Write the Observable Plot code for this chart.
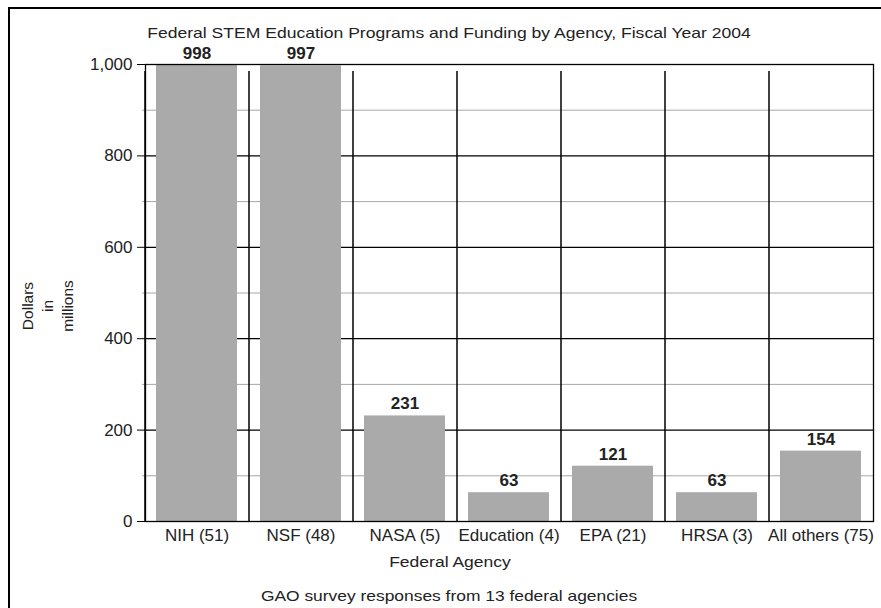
<!DOCTYPE html>
<html>
<head>
<meta charset="utf-8">
<script src="https://cdn.jsdelivr.net/npm/d3@7"></script>
<script src="https://cdn.jsdelivr.net/npm/@observablehq/plot@0.6"></script>
<style>
  body { margin: 0; background: #fff; }
  #wrap { position: relative; width: 881px; height: 608px; overflow: hidden; background: #fff;
          font-family: "Liberation Sans", Arial, Helvetica, sans-serif; color: #222; }
  #border { position: absolute; left: 7.5px; top: 6.5px; width: 900px; height: 700px;
            border-top: 2.5px solid #000; border-left: 2.5px solid #000; }
  .t { position: absolute; white-space: nowrap; }
  #title { left: 449px; top: 32px; font-size: 15px; transform: translate(-50%, -50%) scaleX(1.17); }
  #xlabel { left: 450px; top: 562px; font-size: 15.5px; transform: translate(-50%, -50%) scaleX(1.13); }
  #caption { left: 449px; top: 595px; font-size: 15px; transform: translate(-50%, -50%) scaleX(1.16); }
  #ylabel { left: 48px; top: 306px; font-size: 15.5px; line-height: 20px; text-align: center;
            transform: translate(-50%, -50%) rotate(-90deg); }
  #chart { position: absolute; left: 0; top: 0; }
</style>
</head>
<body>
<div id="wrap">
  <div id="chart"></div>
  <div id="border"></div>
  <div class="t" id="title">Federal STEM Education Programs and Funding by Agency, Fiscal Year 2004</div>
  <div class="t" id="ylabel">Dollars<br>in<br>millions</div>
  <div class="t" id="xlabel">Federal Agency</div>
  <div class="t" id="caption">GAO survey responses from 13 federal agencies</div>
</div>
<script>
const categories = ["NIH (51)", "NSF (48)", "NASA (5)", "Education (4)", "EPA (21)", "HRSA (3)", "All others (75)"];
const values = [998, 997, 231, 63, 121, 63, 154];
const majorTicks = [0, 200, 400, 600, 800, 1000];
const minorTicks = [100, 300, 500, 700, 900];

const data = categories.map((c, i) => ({agency: c, value: values[i]}));

const W = 881, H = 608, mL = 145, mR = 8, mT = 64, mB = 87;
const step = (W - mL - mR) / categories.length;

const chart = Plot.plot({
  width: W,
  height: H,
  marginLeft: mL,
  marginRight: mR,
  marginTop: mT,
  marginBottom: mB,
  style: {fontFamily: '"Liberation Sans", Arial, Helvetica, sans-serif', background: "transparent", color: "#222", overflow: "visible"},
  x: {domain: categories, paddingInner: 0.22, paddingOuter: 0.11},
  y: {domain: [0, 1000]},
  marks: [
    Plot.ruleY(minorTicks, {stroke: "#a8a8a8", strokeWidth: 1, insetLeft: -3}),
    Plot.ruleY(majorTicks, {stroke: "#000", strokeWidth: 1.2}),
    Plot.barY(data, {x: "agency", y: "value", fill: "#aaaaaa"}),
    Plot.ruleX(categories, {x: d => d, y1: 0, y2: 1000, dx: -step / 2, insetBottom: -7, stroke: "#000", strokeWidth: 1.5}),
    Plot.frame({stroke: "#000", strokeWidth: 1.3}),
    Plot.text(data, {x: "agency", y: "value", text: d => String(d.value), dy: -12, fontSize: 17, fontWeight: "bold", fill: "#222"}),
    Plot.axisY({ticks: majorTicks, tickFormat: d3.format(","), tickSize: 8, tickPadding: 5, fontSize: 17, label: null, stroke: "#000"}),
    Plot.axisX({tickSize: 0, tickPadding: 7, fontSize: 17, label: null})
  ]
});
document.getElementById("chart").appendChild(chart);
</script>
</body>
</html>
